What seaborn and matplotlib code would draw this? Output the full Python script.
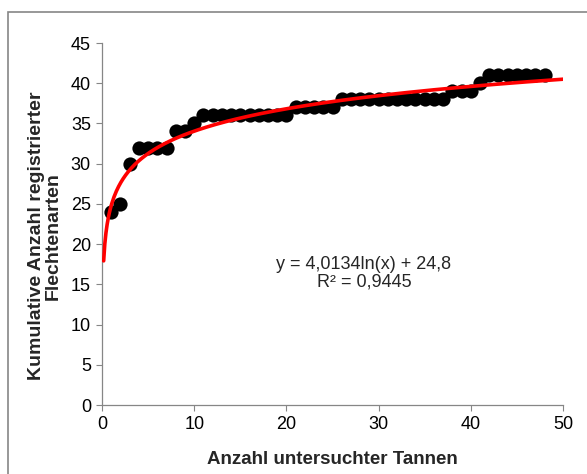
import numpy as np
import pandas as pd
import matplotlib
matplotlib.use("Agg")
import matplotlib.pyplot as plt
import seaborn as sns
from matplotlib.patches import Rectangle

# Data
trees = list(range(1, 49))
species = [24, 25, 30, 32, 32, 32, 32, 34, 34, 35,
           36, 36, 36, 36, 36, 36, 36, 36, 36, 36,
           37, 37, 37, 37, 37,
           38, 38, 38, 38, 38, 38, 38, 38, 38, 38, 38, 38,
           39, 39, 39, 40,
           41, 41, 41, 41, 41, 41, 41]
fit_a = 4.0134
fit_b = 24.8
fit_range = (0.18, 50)
x_ticks = [0, 10, 20, 30, 40, 50]
y_ticks = [0, 5, 10, 15, 20, 25, 30, 35, 40, 45]
eq_text = "y = 4,0134ln(x) + 24,8\nR² = 0,9445"

sns.set_theme(style="white")
plt.rcParams['font.family'] = ['Liberation Sans', 'DejaVu Sans']

fig = plt.figure(figsize=(5.87, 4.74), dpi=100)
ax = fig.add_axes([102/587, 1-405/474, (563-102)/587, (405-43)/474])

df = pd.DataFrame({"x": trees, "y": species})
sns.scatterplot(data=df, x="x", y="y", ax=ax, color="black", s=105,
                edgecolor="black", linewidth=0, zorder=2)

xf = np.linspace(fit_range[0], fit_range[1], 400)
fit_df = pd.DataFrame({"x": xf, "y": fit_a * np.log(xf) + fit_b})
sns.lineplot(data=fit_df, x="x", y="y", ax=ax, color="#ff0000", linewidth=2.6, zorder=3)

ax.set_xlim(0, 50)
ax.set_ylim(0, 45)
ax.set_xticks(x_ticks)
ax.set_yticks(y_ticks)
ax.tick_params(axis="both", which="major", labelsize=13, length=4, width=0.8,
               color="#868686", direction="out", pad=4, left=True, bottom=True,
               labelcolor="black")
for s in ["top", "right"]:
    ax.spines[s].set_visible(False)
for s in ["left", "bottom"]:
    ax.spines[s].set_color("#868686")
    ax.spines[s].set_linewidth(0.9)

ax.set_xlabel("Anzahl untersuchter Tannen", fontsize=13.5, fontweight="bold", labelpad=13)
ax.set_ylabel("Kumulative Anzahl registrierter\nFlechtenarten", fontsize=14,
              fontweight="bold", linespacing=1.0)
ax.yaxis.set_label_coords(-0.087, 0.467)

ax.text(28.4, 16.35, eq_text, fontsize=13, ha="center", va="center", linespacing=1.0)

fig.patches.append(Rectangle((8/587, -0.05), 1.05, 1 - 12/474 + 0.05,
                             transform=fig.transFigure, fill=False,
                             edgecolor="#868686", linewidth=1.2, zorder=0))

fig.savefig("out.png", dpi=100)
